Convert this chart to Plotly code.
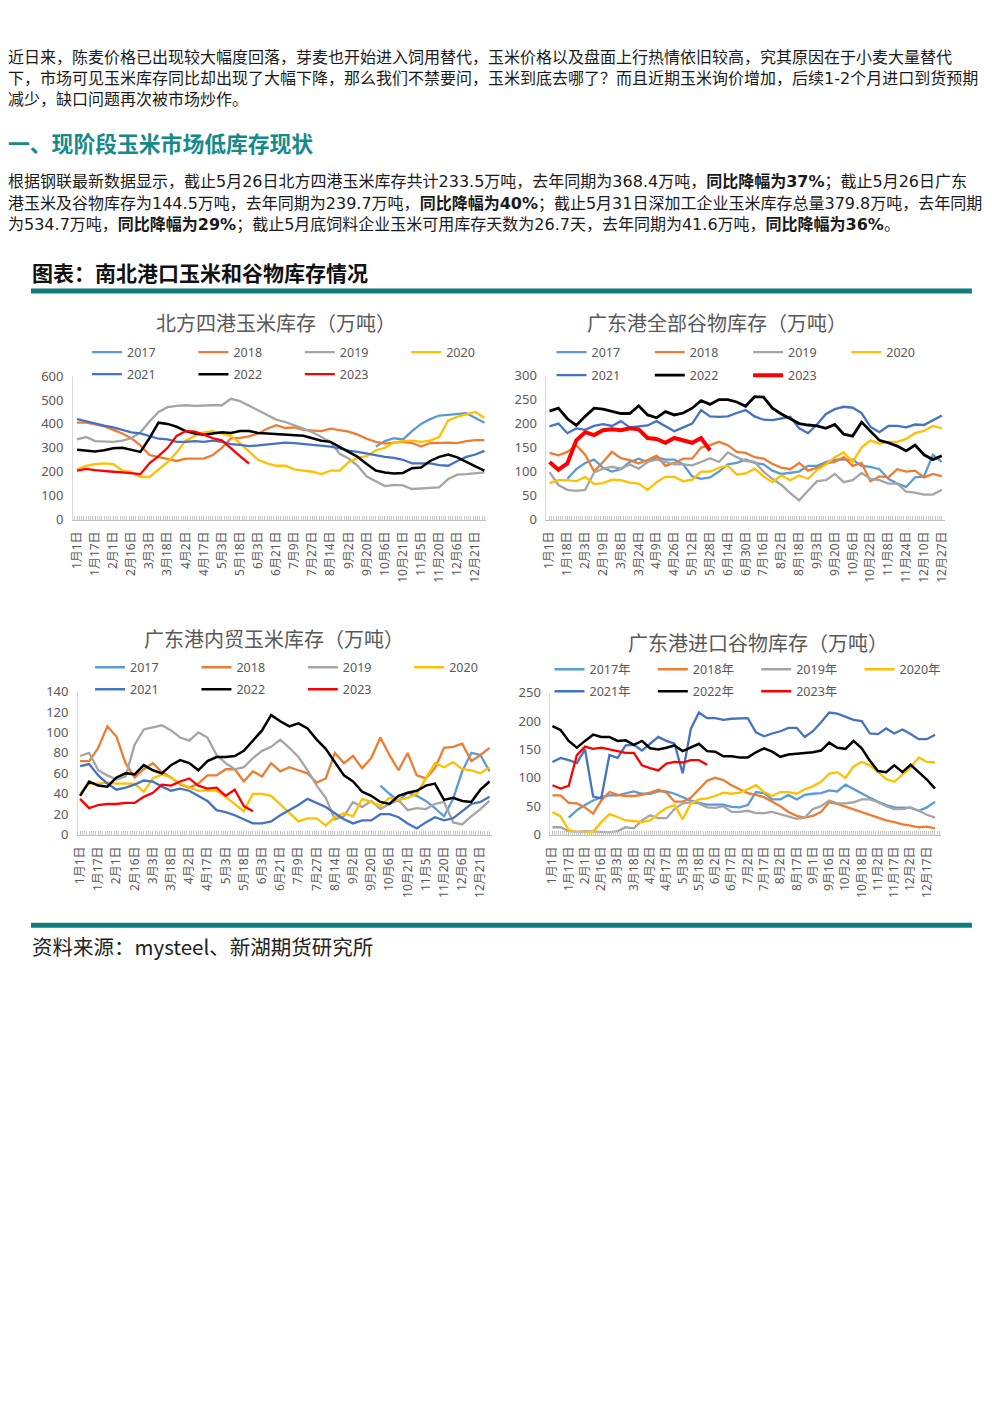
import numpy as np
import plotly.graph_objects as go

W, H = 992, 1403
# the photographed page shows the figure shifted and slightly shrunk; positions below are
# page pixels of the reference and get mapped back to figure pixels
S, OX, OY = 0.987, 15.0, 16.5

years = ['2017', '2018', '2019', '2020', '2021', '2022', '2023']
colors = ['#5B9BD5', '#ED7D31', '#A5A5A5', '#FFC000', '#4472C4', '#000000', '#FF0000']

# ---- text ----
para1 = [
    '近日来，陈麦价格已出现较大幅度回落，芽麦也开始进入饲用替代，玉米价格以及盘面上行热情依旧较高，究其原因在于小麦大量替代',
    '下，市场可见玉米库存同比却出现了大幅下降，那么我们不禁要问，玉米到底去哪了？而且近期玉米询价增加，后续1-2个月进口到货预期',
    '减少，缺口问题再次被市场炒作。',
]
heading = '一、现阶段玉米市场低库存现状'
para2 = [
    '根据钢联最新数据显示，截止5月26日北方四港玉米库存共计233.5万吨，去年同期为368.4万吨，<b>同比降幅为37%</b>；截止5月26日广东',
    '港玉米及谷物库存为144.5万吨，去年同期为239.7万吨，<b>同比降幅为40%</b>；截止5月31日深加工企业玉米库存总量379.8万吨，去年同期',
    '为534.7万吨，<b>同比降幅为29%</b>；截止5月底饲料企业玉米可用库存天数为26.7天，去年同期为41.6万吨，<b>同比降幅为36%</b>。',
]
fig_caption = '图表：南北港口玉米和谷物库存情况'
source = '资料来源：mysteel、新湖期货研究所'

titles = ['北方四港玉米库存（万吨）', '广东港全部谷物库存（万吨）',
          '广东港内贸玉米库存（万吨）', '广东港进口谷物库存（万吨）']

# ---- tick labels ----
ticks_a = ['1月1日', '1月17日', '2月1日', '2月16日', '3月3日', '3月18日', '4月2日', '4月17日',
           '5月3日', '5月18日', '6月3日', '6月21日', '7月9日', '7月27日', '8月14日', '9月2日',
           '9月20日', '10月6日', '10月21日', '11月5日', '11月20日', '12月6日', '12月21日']
ticks_b = ['1月1日', '1月18日', '2月3日', '2月19日', '3月8日', '3月24日', '4月9日', '4月26日',
           '5月12日', '5月28日', '6月14日', '6月30日', '7月16日', '8月2日', '8月18日', '9月3日',
           '9月20日', '10月6日', '10月22日', '11月8日', '11月24日', '12月10日', '12月27日']
ticks_d = ['1月1日', '1月17日', '2月1日', '2月16日', '3月3日', '3月18日', '4月2日', '4月17日',
           '5月3日', '5月18日', '6月2日', '6月17日', '7月2日', '7月17日', '8月2日', '8月17日',
           '9月1日', '9月16日', '10月2日', '10月18日', '11月2日', '11月17日', '12月2日', '12月17日']

# ---- chart 1: 北方四港玉米库存 ----
n4_2017 = [None] * 33 + [305, 328, 340, 335, 370, 400, 420, 435, 438, 443, 445, 425, 405]
n4_2018 = [405, 405, 398, 390, 375, 360, 340, 310, 270, 262, 255, 245, 255, 255, 255, 270, 300, 340, 342, 348,
           360, 380, 395, 383, 385, 375, 372, 370, 380, 375, 368, 355, 338, 325, 318, 322, 325, 320, 305, 320,
           322, 322, 320, 328, 332, 332]
n4_2019 = [335, 345, 328, 325, 325, 330, 340, 365, 410, 450, 470, 475, 478, 475, 478, 478, 478, 505, 495, 475,
           455, 435, 418, 408, 395, 380, 365, 345, 325, 275, 255, 225, 180, 160, 140, 145, 143, 128, 130, 133,
           135, 170, 188, 190, 193, 197]
n4_2020 = [210, 225, 232, 235, 232, 205, 200, 178, 178, 210, 240, 280, 330, 350, 365, 370, 360, 350, 320, 285,
           250, 235, 225, 225, 210, 205, 200, 190, 205, 205, 240, 258, 265, 290, 300, 322, 328, 330, 325, 330,
           345, 415, 430, 440, 450, 425]
n4_2021 = [420, 410, 400, 393, 385, 375, 365, 360, 350, 338, 335, 325, 325, 328, 325, 330, 325, 315, 312, 307,
           310, 315, 318, 322, 320, 316, 313, 310, 305, 298, 288, 283, 275, 270, 262, 258, 250, 235, 235, 235,
           228, 225, 245, 262, 272, 287]
n4_2022 = [292, 290, 285, 290, 298, 300, 293, 283, 340, 405, 400, 388, 370, 360, 355, 360, 365, 362, 370, 370,
           362, 360, 358, 357, 352, 350, 340, 330, 325, 305, 285, 262, 232, 205, 197, 193, 195, 215, 218, 245,
           262, 272, 260, 240, 222, 205]
n4_2023 = [205, 212, 207, 205, 200, 197, 192, 190, 235, 265, 300, 350, 370, 368, 355, 340, 331, 300, 265, 233.5]

# ---- chart 2: 广东港全部谷物库存 ----
gd_2017 = [None, None, 85, 105, 118, 125, 108, 100, 105, 120, 127, 120, 130, 125, 125, 115, 90, 85, 88, 100,
           115, 118, 125, 118, 115, 102, 95, 97, 100, 112, 112, 120, 125, 125, 125, 112, 110, 105, 85, 75,
           68, 88, 90, 135, 120]
gd_2018 = [139, 134, 141, 155, 135, 100, 120, 141, 128, 124, 117, 124, 133, 112, 118, 127, 127, 150, 155, 162,
           155, 141, 139, 130, 127, 116, 108, 105, 118, 102, 108, 117, 120, 130, 112, 118, 80, 90, 88, 105,
           100, 102, 88, 95, 90]
gd_2019 = [99, 72, 62, 60, 62, 98, 106, 110, 106, 115, 106, 120, 125, 120, 115, 115, 113, 120, 128, 120,
           140, 130, 122, 120, 100, 85, 72, 55, 40, 60, 80, 82, 95, 78, 82, 97, 85, 82, 75, 75,
           58, 56, 52, 52, 62]
gd_2020 = [76, 82, 82, 80, 89, 74, 76, 83, 82, 77, 75, 62, 78, 89, 89, 80, 83, 100, 100, 108,
           112, 94, 96, 106, 90, 78, 92, 82, 92, 85, 103, 115, 130, 140, 120, 150, 165, 158, 162, 162,
           168, 180, 185, 195, 190]
gd_2021 = [194, 200, 180, 190, 187, 195, 199, 195, 205, 192, 194, 196, 205, 194, 184, 192, 200, 228, 215, 214,
           215, 222, 228, 215, 208, 207, 210, 214, 190, 180, 198, 220, 230, 235, 233, 222, 193, 182, 195, 195,
           192, 198, 197, 207, 217]
gd_2022 = [226, 232, 210, 196, 215, 232, 230, 225, 221, 221, 237, 218, 212, 225, 218, 222, 232, 248, 240, 250,
           250, 245, 236, 256, 255, 232, 220, 210, 200, 197, 195, 190, 198, 178, 174, 203, 185, 165, 160, 153,
           143, 155, 135, 125, 133]
gd_2023 = [120, 104, 117, 165, 182, 176, 186, 188, 186, 190, 188, 170, 168, 160, 170, 165, 160, 170, 144.5]

# ---- chart 3: 广东港内贸玉米库存 ----
dm_2017 = [None] * 33 + [48, 40, 33, 41, 38, 33, 26, 18, 35, 62, 80, 78, 62]
dm_2018 = [72, 72, 85, 106, 96, 70, 56, 64, 70, 61, 56, 49, 46, 50, 58, 58, 64, 64, 52, 62,
           57, 70, 62, 66, 63, 60, 51, 55, 80, 70, 77, 65, 75, 95, 78, 63, 80, 58, 55, 65,
           85, 86, 89, 72, 78, 85]
dm_2019 = [77, 80, 63, 58, 54, 57, 88, 103, 105, 107, 102, 95, 92, 100, 95, 78, 70, 64, 66, 75,
           82, 86, 93, 85, 76, 63, 48, 36, 15, 18, 32, 27, 33, 25, 30, 34, 24, 26, 25, 30,
           32, 12, 10, 18, 25, 33]
dm_2020 = [40, 50, 50, 51, 50, 50, 50, 42, 55, 59, 56, 50, 46, 43, 43, 43, 37, 30, 23, 40,
           40, 38, 30, 22, 13, 16, 16, 9, 17, 21, 18, 35, 32, 28, 36, 34, 36, 40, 55, 70,
           66, 71, 64, 63, 60, 66]
dm_2021 = [67, 69, 58, 50, 44, 46, 49, 53, 52, 47, 43, 45, 43, 38, 33, 24, 22, 19, 15, 11,
           11, 13, 19, 24, 29, 35, 31, 27, 21, 15, 11, 14, 14, 20, 20, 17, 11, 6, 12, 17,
           14, 16, 23, 30, 32, 37]
dm_2022 = [38, 52, 48, 47, 56, 60, 59, 68, 63, 60, 68, 73, 70, 63, 72, 76, 76, 77, 82, 92,
           102, 117, 111, 106, 109, 104, 93, 84, 71, 58, 52, 42, 38, 32, 30, 38, 41, 43, 48, 50,
           34, 36, 33, 32, 44, 52]
dm_2023 = [35, 26, 29, 30, 30, 31, 31, 37, 41, 49, 48, 52, 55, 48, 45, 46, 38, 44, 28, 23]

# ---- chart 4: 广东港进口谷物库存 ----
im_2017 = [None, None, 30, 43, 52, 60, 66, 69, 69, 72, 76, 72, 72, 76, 76, 72, 66, 60, 56, 53, 53, 53,
           49, 48, 52, 75, 73, 62, 62, 70, 62, 70, 72, 73, 78, 76, 88, 80, 72, 65, 58, 52,
           48, 48, 47, 42, 48, 58]
im_2018 = [69, 69, 56, 55, 48, 37, 60, 75, 70, 68, 68, 70, 74, 79, 74, 58, 58, 65, 80, 95,
           100, 96, 87, 80, 73, 70, 66, 58, 50, 40, 33, 30, 33, 40, 57, 54, 49, 44, 39, 34,
           29, 25, 22, 18, 16, 13, 14, 11]
im_2019 = [13, 13, 6, 5, 6, 6, 5, 4, 6, 13, 11, 25, 34, 29, 29, 45, 55, 57, 55, 48,
           47, 50, 40, 40, 42, 38, 38, 40, 36, 33, 28, 30, 45, 50, 60, 55, 55, 57, 62, 62,
           57, 50, 45, 45, 48, 42, 35, 30]
im_2020 = [40, 32, 8, 5, 5, 5, 22, 36, 31, 25, 24, 22, 25, 37, 47, 52, 27, 55, 62, 64,
           68, 74, 72, 74, 80, 87, 75, 68, 75, 75, 72, 80, 85, 93, 107, 110, 100, 120, 128, 122,
           110, 98, 93, 105, 118, 136, 128, 127]
im_2021 = [128, 135, 131, 126, 150, 67, 64, 140, 135, 157, 158, 148, 160, 172, 165, 160, 108, 186, 215, 205,
           205, 202, 204, 205, 205, 180, 173, 178, 182, 188, 188, 172, 182, 198, 215, 213, 207, 202, 200, 178,
           177, 187, 178, 185, 177, 168, 168, 176]
im_2022 = [191, 184, 165, 153, 165, 176, 172, 172, 165, 166, 158, 165, 152, 150, 153, 157, 147, 153, 160, 147,
           146, 138, 138, 136, 136, 145, 152, 146, 137, 141, 142, 144, 145, 148, 162, 153, 151, 165, 152, 130,
           112, 110, 122, 110, 123, 110, 97, 81]
im_2023 = [87, 81, 86, 140, 155, 151, 153, 150, 146, 144, 144, 122, 117, 113, 125, 128, 127, 131, 131, 123]


def px_x(p):
    # reference page pixel -> paper fraction
    return (p - OX) / S / W


def px_y(p):
    return 1 - (p - OY) / S / H


TICK_FONT = dict(family='Noto Sans, Noto Sans CJK SC', size=12, color='#595959')
FONT = 'DejaVu Sans, Noto Sans CJK SC'

charts = [
    dict(series=[n4_2017, n4_2018, n4_2019, n4_2020, n4_2021, n4_2022, n4_2023], suffix='',
         box=(73, 486, 375.5, 519), yr=600, dy=100, xr=(-0.22, 22.61), ticks=ticks_a,
         leg_x=87, leg_step=105, leg_y=(352, 374), title_xy=(276, 322),
         widths=[2.3] * 5 + [2.5, 2.3]),
    dict(series=[gd_2017, gd_2018, gd_2019, gd_2020, gd_2021, gd_2022, gd_2023], suffix='',
         box=(546, 944, 375, 519), yr=300, dy=50, xr=(-0.17, 22.17), ticks=ticks_b,
         leg_x=551, leg_step=97, leg_y=(352, 375), title_xy=(716, 322),
         widths=[2.3] * 5 + [2.8, 4]),
    dict(series=[dm_2017, dm_2018, dm_2019, dm_2020, dm_2021, dm_2022, dm_2023], suffix='',
         box=(78, 492, 691, 834), yr=140, dy=20, xr=(-0.11, 22.66), ticks=ticks_a,
         leg_x=90, leg_step=105, leg_y=(667, 689), title_xy=(274, 638),
         widths=[2.3] * 5 + [2.5, 2.3]),
    dict(series=[im_2017, im_2018, im_2019, im_2020, im_2021, im_2022, im_2023], suffix='年',
         box=(550, 940, 692, 834), yr=250, dy=50, xr=(-0.12, 23.86), ticks=ticks_d,
         leg_x=549, leg_step=102, leg_y=(669, 691), title_xy=(757, 642),
         widths=[2.3] * 5 + [2.5, 2.3]),
]

fig = go.Figure()
layout = dict(width=W, height=H, margin=dict(l=0, r=0, t=0, b=0),
              paper_bgcolor='white', plot_bgcolor='white', showlegend=True)
annotations = []

for k, ch in enumerate(charts):
    xa = 'x' if k == 0 else 'x%d' % (k + 1)
    ya = 'y' if k == 0 else 'y%d' % (k + 1)
    leg_a = 'legend' if k == 0 else 'legend%d' % (2 * k + 1)
    leg_b = 'legend%d' % (2 * k + 2)
    for j, vals in enumerate(ch['series']):
        xs = np.arange(len(vals)) * 0.5
        fig.add_trace(go.Scatter(
            x=xs, y=vals, mode='lines', name=years[j] + ch['suffix'],
            line=dict(color=colors[j], width=ch['widths'][j]),
            xaxis=xa, yaxis=ya, legend=leg_a if j < 4 else leg_b,
            connectgaps=False, hoverinfo='skip'))
    l, r, t, b = ch['box']
    layout['xaxis' if k == 0 else 'xaxis%d' % (k + 1)] = dict(
        domain=[px_x(l), px_x(r)], range=list(ch['xr']), anchor=ya,
        tickmode='array', tickvals=list(range(len(ch['ticks']))), ticktext=ch['ticks'],
        tickangle=-90, tickfont=TICK_FONT, ticks='inside', ticklen=4, tickcolor='#BFBFBF',
        ticklabelstandoff=6,
        minor=dict(tickmode='linear', tick0=0, dtick=0.125, ticks='inside', ticklen=4,
                   tickcolor='#C8C8C8', showgrid=False),
        showline=True, linecolor='#BFBFBF', linewidth=1, showgrid=False, zeroline=False)
    layout['yaxis' if k == 0 else 'yaxis%d' % (k + 1)] = dict(
        domain=[px_y(b), px_y(t)], range=[0, ch['yr']], anchor=xa, dtick=ch['dy'],
        tickfont=dict(family='Noto Sans, DejaVu Sans', size=13, color='#595959'),
        ticks='', ticklabelstandoff=6,
        showline=True, linecolor='#D9D9D9', linewidth=1, showgrid=False, zeroline=False)
    for leg, yy in ((leg_a, ch['leg_y'][0]), (leg_b, ch['leg_y'][1])):
        layout[leg] = dict(x=px_x(ch['leg_x']), y=px_y(yy), xanchor='left', yanchor='middle',
                           orientation='h', entrywidth=ch['leg_step'] / S - 45, entrywidthmode='pixels',
                           font=dict(family='Noto Sans, Noto Sans CJK SC', size=12.5, color='#595959'),
                           bgcolor='rgba(0,0,0,0)', borderwidth=0, itemclick=False)
    tx, ty = ch['title_xy']
    annotations.append(dict(x=px_x(tx), y=px_y(ty), xref='paper', yref='paper', showarrow=False,
                            xanchor='center', yanchor='middle', text=titles[k],
                            font=dict(family='Noto Sans CJK SC', size=20, color='#595959')))

# page text
for i, line in enumerate(para1):
    annotations.append(dict(x=px_x(6), y=px_y(57 + 21 * i), xref='paper', yref='paper', showarrow=False,
                            xanchor='left', yanchor='middle', text=line,
                            font=dict(family=FONT, size=16, color='#1a1a1a')))
annotations.append(dict(x=px_x(6), y=px_y(142), xref='paper', yref='paper', showarrow=False,
                        xanchor='left', yanchor='middle', text='<b>' + heading + '</b>',
                        font=dict(family='Noto Sans CJK SC', size=21.8, color='#148A8A')))
for i, line in enumerate(para2):
    annotations.append(dict(x=px_x(6), y=px_y(181 + 21.5 * i), xref='paper', yref='paper', showarrow=False,
                            xanchor='left', yanchor='middle', text=line,
                            font=dict(family=FONT, size=16, color='#1a1a1a')))
annotations.append(dict(x=px_x(30), y=px_y(271), xref='paper', yref='paper', showarrow=False,
                        xanchor='left', yanchor='middle', text='<b>' + fig_caption + '</b>',
                        font=dict(family='Noto Sans CJK SC', size=21, color='#111111')))
annotations.append(dict(x=px_x(30), y=px_y(945), xref='paper', yref='paper', showarrow=False,
                        xanchor='left', yanchor='middle', text=source,
                        font=dict(family='Noto Sans CJK SC', size=20.5, color='#222222')))

shapes = [
    dict(type='rect', xref='paper', yref='paper', x0=px_x(31), x1=px_x(971), y0=px_y(293), y1=px_y(288),
         fillcolor='#0E7C7B', line=dict(width=0)),
    dict(type='rect', xref='paper', yref='paper', x0=px_x(31), x1=px_x(971), y0=px_y(927), y1=px_y(922),
         fillcolor='#0E7C7B', line=dict(width=0)),
]

layout['annotations'] = annotations
layout['shapes'] = shapes
fig.update_layout(**layout)

fig.write_html("out.html")
